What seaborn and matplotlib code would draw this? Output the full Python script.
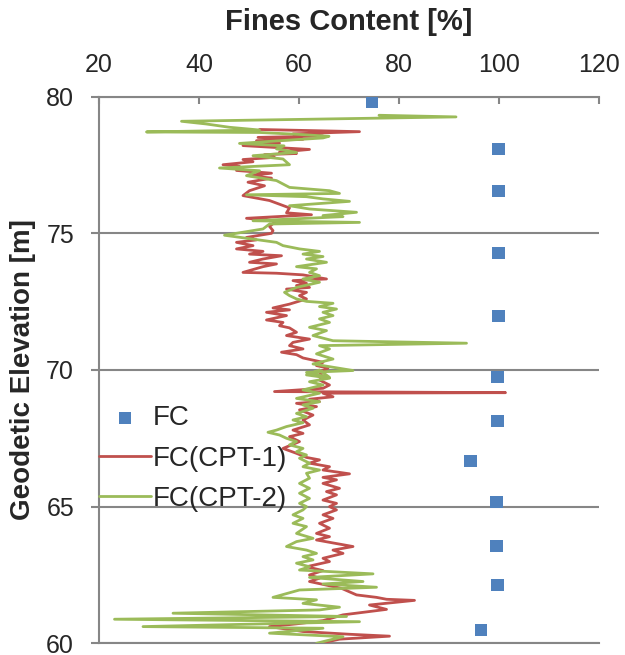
import matplotlib
matplotlib.use("Agg")
import matplotlib.pyplot as plt
import seaborn as sns

# lab fines content (markers)
fc_elev = [79.80, 78.07, 76.56, 74.27, 71.97, 69.76, 68.13, 66.68, 65.18, 63.56, 62.12, 60.50]
fc_val = [74.6, 99.9, 99.9, 99.9, 99.9, 99.7, 99.7, 94.3, 99.5, 99.5, 99.7, 96.4]

# CPT-1 derived fines content from top to bottom
cpt1_val = [
    52.1, 72.1, 58.8, 64.8, 51.8, 60.8, 51.5, 56.1, 48.8, 62.1,
    56.1, 59.5, 53.1, 55.1, 48.8, 50.8, 44.8, 48.1, 47.5, 54.5,
    50.1, 54.5, 49.8, 53.1, 50.1, 48.8, 54.1, 58.1, 57.5, 62.5,
    49.5, 55.5, 54.1, 54.8,
    54.5, 49.5, 51.5, 47.5, 50.8, 47.5, 52.8, 50.1, 56.5, 52.8,
    50.1, 55.5, 52.8, 48.8, 55.5, 60.8, 65.5, 58.8, 61.5, 59.5,
    62.1, 57.5, 61.5, 60.1, 61.5, 58.1, 54.8, 58.1, 53.5, 57.5,
    53.5, 56.8, 56.1, 58.1, 59.5, 57.5, 62.1, 58.8, 58.1, 60.8,
    56.5, 59.5, 60.8, 64.8, 63.5, 65.8, 64.1, 64.8,
    64.1, 66.1, 64.8, 55.1, 101.3, 64.8, 66.8, 62.1, 64.1, 59.5,
    63.5, 60.1, 62.8, 60.8, 62.1, 58.8, 60.8, 58.1, 60.1, 56.8,
    59.5, 61.5, 64.1, 62.1, 66.1, 64.8, 70.1, 64.8, 67.5, 64.8,
    68.1, 65.5, 67.5, 64.8, 67.5, 66.1,
    67.5, 64.8, 66.8, 64.1, 66.1, 63.5, 66.1, 63.5, 70.8, 66.8,
    68.8, 64.8, 66.1, 61.5, 64.8, 62.1, 64.1, 62.1, 68.5, 71.5,
    75.5, 77.5, 83.1, 74.1, 77.5, 68.8, 64.8, 59.5, 54.1, 60.8,
    70.1, 78.1, 68.1, 64.8]
cpt1_elev = [
    78.80, 78.72, 78.64, 78.56, 78.51, 78.44, 78.39, 78.30, 78.21, 78.07,
    77.97, 77.92, 77.88, 77.78, 77.70, 77.62, 77.51, 77.45, 77.30, 77.20,
    77.11, 77.02, 76.87, 76.74, 76.56, 76.38, 76.20, 75.93, 75.75, 75.68,
    75.55, 75.46, 75.25, 75.10,
    75.00, 74.85, 74.76, 74.67, 74.55, 74.43, 74.34, 74.24, 74.18, 74.06,
    73.94, 73.88, 73.78, 73.57, 73.54, 73.48, 73.33, 73.27, 73.17, 73.09,
    73.02, 72.96, 72.84, 72.72, 72.60, 72.41, 72.27, 72.20, 72.11, 71.99,
    71.83, 71.74, 71.62, 71.54, 71.38, 71.26, 71.13, 71.01, 70.89, 70.77,
    70.65, 70.56, 70.44, 70.28, 70.16, 70.07, 69.91, 69.73,
    69.63, 69.45, 69.33, 69.21, 69.17, 69.15, 69.02, 68.93, 68.84, 68.78,
    68.66, 68.54, 68.35, 68.17, 67.99, 67.80, 67.68, 67.56, 67.38, 67.13,
    66.95, 66.80, 66.71, 66.59, 66.46, 66.34, 66.20, 66.07, 65.98, 65.85,
    65.67, 65.55, 65.43, 65.24, 65.12, 65.00,
    64.88, 64.70, 64.57, 64.39, 64.21, 64.02, 63.90, 63.78, 63.54, 63.41,
    63.29, 63.11, 62.99, 62.80, 62.66, 62.50, 62.38, 62.26, 62.01, 61.77,
    61.68, 61.61, 61.57, 61.40, 61.24, 61.04, 60.83, 60.71, 60.61, 60.43,
    60.33, 60.26, 60.15, 60.02]

# CPT-2 derived fines content
cpt2_val = [
    76.0, 91.4, 36.5, 41.5, 46.1, 52.1, 29.5, 52.1, 60.0, 66.0,
    64.8, 58.8, 48.1, 57.0, 55.5, 59.5, 50.8, 56.8, 58.1, 44.1,
    52.1, 49.5, 55.5, 58.1, 66.1, 68.1, 49.5, 61.5, 64.8, 70.1,
    58.1, 62.1, 71.5, 64.8, 68.8, 50.8, 72.1, 54.1, 52.8, 45.1,
    55.5, 56.8, 60.1, 64.1, 60.8, 64.8, 61.5, 65.5, 59.5, 63.5,
    62.1, 64.1, 60.8, 64.1, 59.5, 57.1, 58.1, 59.5, 61.5, 66.8,
    64.1, 67.5, 64.8, 66.8, 64.1, 66.1, 62.1, 65.5, 62.8, 66.8,
    93.5, 64.1, 66.1, 63.5, 66.8, 62.8, 70.8, 61.5, 66.1,
    64.1, 61.5, 66.1, 62.1, 64.8, 60.8, 64.1, 59.5, 64.1, 60.8,
    62.8, 59.5, 61.5, 58.8, 60.8, 57.5, 55.5, 53.8, 56.1, 57.5,
    59.5, 58.1, 60.8, 59.5, 61.5, 60.1, 62.1, 60.8, 64.1, 61.5,
    62.1, 60.1, 62.1, 60.1, 62.1, 60.1, 61.5,
    60.8, 58.8, 60.8, 58.8, 61.5, 59.5, 62.8, 59.5, 57.5, 61.5,
    63.5, 60.8, 62.8, 59.5, 62.1, 60.1, 74.8, 62.1, 72.8, 64.8,
    75.5, 60.1, 54.8, 63.5, 60.8, 68.1, 64.1, 34.8, 69.5, 23.1,
    72.1, 28.8, 64.8, 54.1, 68.8, 63.5]
cpt2_elev = [
    79.32, 79.26, 79.10, 79.00, 78.88, 78.78, 78.71, 78.69, 78.62, 78.55,
    78.49, 78.42, 78.29, 78.20, 78.09, 77.96, 77.84, 77.72, 77.51, 77.39,
    77.29, 77.11, 76.93, 76.68, 76.56, 76.46, 76.41, 76.34, 76.26, 76.17,
    76.01, 75.89, 75.77, 75.65, 75.61, 75.46, 75.40, 75.34, 75.16, 74.93,
    74.67, 74.55, 74.43, 74.34, 74.24, 74.15, 74.06, 73.94, 73.78, 73.70,
    73.57, 73.45, 73.33, 73.21, 73.02, 72.84, 72.72, 72.60, 72.51, 72.44,
    72.32, 72.23, 72.11, 71.99, 71.87, 71.74, 71.56, 71.44, 71.26, 71.07,
    70.98, 70.89, 70.77, 70.59, 70.40, 70.22, 69.98, 69.91, 69.73,
    70.00, 69.82, 69.70, 69.57, 69.45, 69.27, 69.15, 68.96, 68.84, 68.72,
    68.60, 68.41, 68.29, 68.17, 68.07, 67.93, 67.80, 67.72, 67.62, 67.50,
    67.38, 67.26, 67.13, 67.01, 66.89, 66.77, 66.59, 66.46, 66.34, 66.22,
    66.04, 65.85, 65.67, 65.49, 65.30, 65.12, 65.00,
    64.88, 64.70, 64.57, 64.39, 64.27, 64.02, 63.84, 63.72, 63.54, 63.41,
    63.29, 63.17, 63.05, 62.93, 62.80, 62.68, 62.54, 62.41, 62.26, 62.17,
    62.05, 61.95, 61.68, 61.59, 61.46, 61.32, 61.22, 61.10, 60.98, 60.88,
    60.79, 60.61, 60.55, 60.37, 60.24, 60.00]

sns.set_theme(style="white")
plt.rcParams["font.family"] = ["Liberation Sans", "DejaVu Sans"]

grey = "#868686"

fig = plt.figure(figsize=(6.25, 6.55), dpi=100)
ax = fig.add_axes([0.1584, 0.0179, 0.8, 0.8345])

sns.scatterplot(x=fc_val, y=fc_elev, marker="s", s=75, color="#4F81BD",
                edgecolor="none", label="FC", ax=ax, zorder=3)
sns.lineplot(x=cpt1_val, y=cpt1_elev, sort=False, estimator=None, color="#C0504D",
             lw=2.0, label="FC(CPT-1)", ax=ax, zorder=4)
sns.lineplot(x=cpt2_val, y=cpt2_elev, sort=False, estimator=None, color="#9BBB59",
             lw=2.0, label="FC(CPT-2)", ax=ax, zorder=5)

ax.set_xlim(20, 120)
ax.set_ylim(60, 80)
ax.set_xticks(range(20, 121, 20))
ax.set_yticks(range(60, 81, 5))
ax.xaxis.tick_top()
ax.xaxis.set_label_position("top")
ax.set_xlabel("Fines Content [%]", fontsize=21, fontweight="bold", labelpad=17)
ax.set_ylabel("Geodetic Elevation [m]", fontsize=20, fontweight="bold", labelpad=7)
ax.tick_params(axis="x", direction="in", length=5, width=1.5, color=grey,
               labelsize=18, pad=14, top=True, bottom=False)
ax.tick_params(axis="y", direction="out", length=6, width=1.5, color=grey,
               labelsize=18, pad=12, left=True)

ax.yaxis.grid(True, color=grey, lw=1.5)
ax.xaxis.grid(False)
for side in ["top", "left", "bottom"]:
    ax.spines[side].set_color(grey)
    ax.spines[side].set_linewidth(1.5)
ax.spines["right"].set_visible(False)

leg = ax.legend(loc="center left", bbox_to_anchor=(0.0, 0.338), frameon=False,
                fontsize=20, handlelength=1.87, handletextpad=0.05,
                labelspacing=0.52, borderpad=0, borderaxespad=0)
leg.set_zorder(10)

fig.savefig("out.png", dpi=100)
